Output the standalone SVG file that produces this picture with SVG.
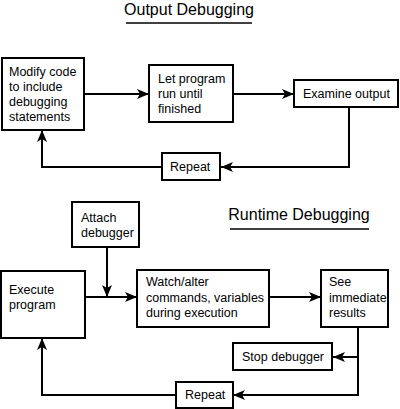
<svg xmlns="http://www.w3.org/2000/svg" width="400" height="409" viewBox="0 0 400 409">
<defs>
<style>
.box{fill:#fff;stroke:#000;stroke-width:2}
.t{font-family:"Liberation Sans",Arial,sans-serif;font-size:12.5px;fill:#000}
.title{font-family:"Liberation Sans",Arial,sans-serif;font-size:16px;fill:#000}
.c{fill:none;stroke:#000;stroke-width:2}
</style>
<marker id="ah" viewBox="0 0 12 10" refX="12" refY="5" markerWidth="12" markerHeight="10" markerUnits="userSpaceOnUse" orient="auto">
<path d="M0,0 L12,5 L0,10 L3,5 z" fill="#000"/>
</marker>
</defs>
<rect width="400" height="409" fill="#fff"/>
<g id="title-output">
<text class="title" x="189" y="15" text-anchor="middle">Output Debugging</text>
<line x1="126" y1="23" x2="252" y2="23" stroke="#000" stroke-width="1.5"/>
</g>
<g id="title-runtime">
<text class="title" x="299" y="220" text-anchor="middle">Runtime Debugging</text>
<line x1="230" y1="229" x2="369" y2="229" stroke="#000" stroke-width="1.5"/>
</g>
<g id="connectors">
<line class="c" x1="84" y1="94" x2="149" y2="94" marker-end="url(#ah)"/>
<line class="c" x1="233" y1="94" x2="294" y2="94" marker-end="url(#ah)"/>
<polyline class="c" points="349,107 349,167 221,167" marker-end="url(#ah)"/>
<polyline class="c" points="162,167 42,167 42,130" marker-end="url(#ah)"/>
<line class="c" x1="107" y1="247" x2="107" y2="297" marker-end="url(#ah)"/>
<line class="c" x1="85" y1="297" x2="137" y2="297" marker-end="url(#ah)"/>
<line class="c" x1="269" y1="297" x2="321" y2="297" marker-end="url(#ah)"/>
<polyline class="c" points="358,327 358,395 233,395" marker-end="url(#ah)"/>
<line class="c" x1="358" y1="357" x2="333" y2="357" marker-end="url(#ah)"/>
<polyline class="c" points="176,395 42,395 42,338" marker-end="url(#ah)"/>
</g>
<g id="modify">
<rect class="box" x="2" y="58" width="82" height="72"/>
<text class="t" x="9" y="76">Modify code</text>
<text class="t" x="9" y="91">to include</text>
<text class="t" x="9" y="106">debugging</text>
<text class="t" x="9" y="121">statements</text>
</g>
<g id="letrun">
<rect class="box" x="149" y="65" width="84" height="57"/>
<text class="t" x="158" y="83">Let program</text>
<text class="t" x="158" y="98">run until</text>
<text class="t" x="158" y="113">finished</text>
</g>
<g id="examine">
<rect class="box" x="294" y="80" width="104" height="27"/>
<text class="t" x="303" y="98">Examine output</text>
</g>
<g id="repeat1">
<rect class="box" x="162" y="153" width="58" height="27"/>
<text class="t" x="170" y="171">Repeat</text>
</g>
<g id="attach">
<rect class="box" x="72" y="202" width="67" height="45"/>
<text class="t" x="81" y="222">Attach</text>
<text class="t" x="81" y="237">debugger</text>
</g>
<g id="execute">
<rect class="box" x="1" y="271" width="84" height="67"/>
<text class="t" x="9" y="294">Execute</text>
<text class="t" x="9" y="309">program</text>
</g>
<g id="watch">
<rect class="box" x="137" y="270" width="132" height="57"/>
<text class="t" x="146" y="286">Watch/alter</text>
<text class="t" x="146" y="302">commands, variables</text>
<text class="t" x="146" y="317">during execution</text>
</g>
<g id="see">
<rect class="box" x="321" y="270" width="67" height="57"/>
<text class="t" x="329" y="286">See</text>
<text class="t" x="329" y="302">immediate</text>
<text class="t" x="329" y="317">results</text>
</g>
<g id="stop">
<rect class="box" x="233" y="343" width="99" height="27"/>
<text class="t" x="242" y="361">Stop debugger</text>
</g>
<g id="repeat2">
<rect class="box" x="176" y="382" width="57" height="26"/>
<text class="t" x="185" y="399">Repeat</text>
</g>
</svg>
